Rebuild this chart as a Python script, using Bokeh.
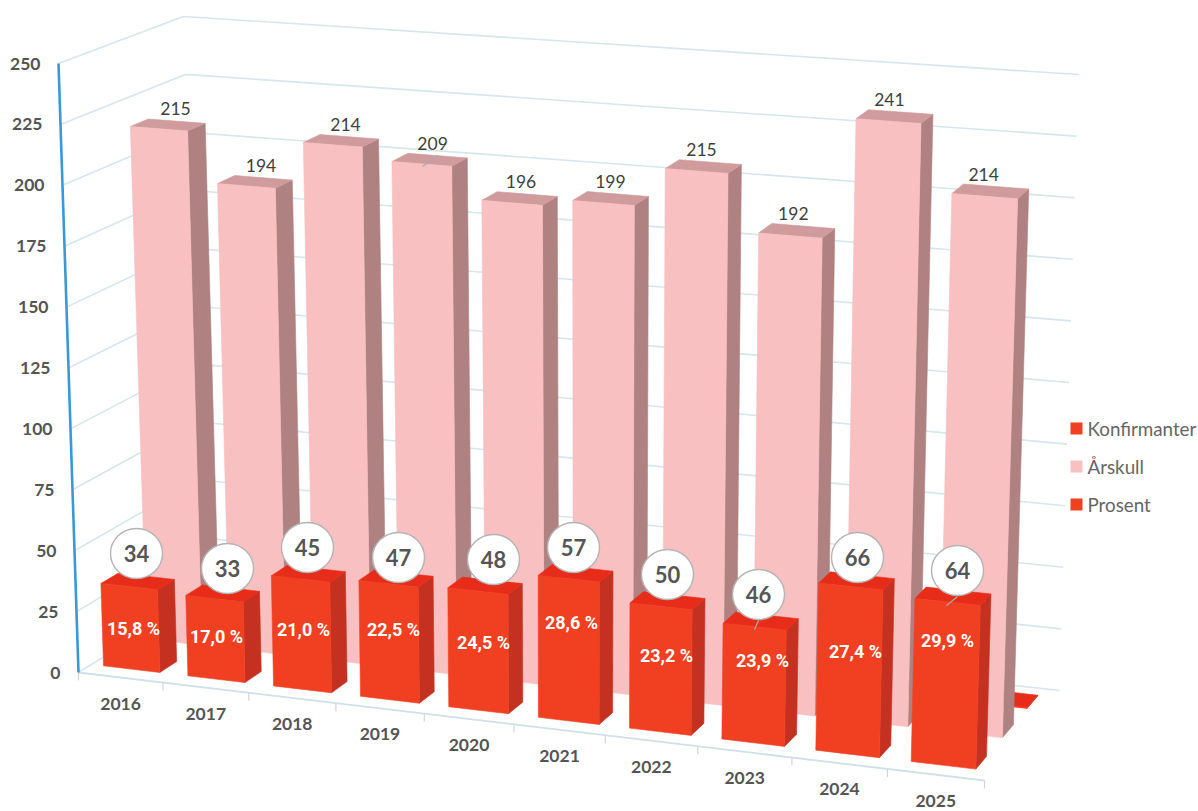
from bokeh.plotting import figure
from bokeh.models import Range1d
from bokeh.core.properties import value
from bokeh.embed import file_html
from bokeh.resources import INLINE

# ---- data ----
years = ["2016", "2017", "2018", "2019", "2020", "2021", "2022", "2023", "2024", "2025"]
konfirmanter = [34, 33, 45, 47, 48, 57, 50, 46, 66, 64]
arskull = [215, 194, 214, 209, 196, 199, 215, 192, 241, 214]
prosent = [15.8, 17.0, 21.0, 22.5, 24.5, 28.6, 23.2, 23.9, 27.4, 29.9]
value_ticks = [0, 25, 50, 75, 100, 125, 150, 175, 200, 225, 250]
legend_labels = ["Konfirmanter", "Årskull", "Prosent"]

# ---- layout: the projection of the 3-D chart box onto the page ----
VMAX = 250.0
FL0, FL1 = (78, 672), (58, 63)      # front left, value 0 / value max
FR0, FR1 = (984, 780), (1002, 138)  # front right
BL0, BL1 = (202, 595), (183, 16)    # back left
BR0, BR1 = (1059, 690), (1078, 74)  # back right
PERSP = 0.08
BAR_U = (0.16, 0.83)
ROW_RED = (0.105, 0.245)
ROW_PINK = (0.455, 0.60)
ROW_THIRD = (0.78, 0.92)

RED = ("#f13f22", "#c53120", "#e72d1a")
PINK = ("#f8c0c1", "#b08181", "#cf9b9c")
GRID = "#d6e6ee"
TXT = "#555555"


def lerp(a, b, t):
    return a + (b - a) * t


def project(u, val, z):
    t = u / (1 + PERSP * (1 - u))
    s = val / VMAX
    out = []
    for k in (0, 1):
        fl = lerp(FL0[k], FL1[k], s)
        fr = lerp(FR0[k], FR1[k], s)
        bl = lerp(BL0[k], BL1[k], s)
        br = lerp(BR0[k], BR1[k], s)
        out.append(lerp(lerp(fl, fr, t), lerp(bl, br, t), z))
    return tuple(out)


def box_faces(series, row, colors, scale=1.0):
    xs, ys, fills = [], [], []
    for i, raw in enumerate(series):
        v = raw * scale
        nudge = -0.016 * (1 - i / 9)
        u0, u1 = (i + BAR_U[0] + nudge) / 10, (i + BAR_U[1] + nudge) / 10
        z0, z1 = row
        side = [project(u1, 0, z0), project(u1, 0, z1), project(u1, v, z1), project(u1, v, z0)]
        top = [project(u0, v, z0), project(u1, v, z0), project(u1, v, z1), project(u0, v, z1)]
        front = [project(u0, 0, z0), project(u1, 0, z0), project(u1, v, z0), project(u0, v, z0)]
        for face, col in ((side, colors[1]), (top, colors[2]), (front, colors[0])):
            xs.append([q[0] for q in face])
            ys.append([q[1] for q in face])
            fills.append(col)
    return xs, ys, fills


p = figure(width=1198, height=811, x_range=Range1d(0, 1198), y_range=Range1d(811, 0),
           output_backend="svg", toolbar_location=None, min_border=0,
           background_fill_color="white", border_fill_color="white", outline_line_color=None)
p.axis.visible = False
p.grid.visible = False

# walls
wall_x, wall_y = [], []
for v in value_ticks:
    a, b, c = project(0, v, 0), project(0, v, 1), project(1, v, 1)
    wall_x.append([a[0], b[0], c[0]])
    wall_y.append([a[1], b[1], c[1]])
p.multi_line(wall_x, wall_y, line_color=GRID, line_width=1.6)

# floor edge + ticks
a, b = project(0, 0, 0), project(1, 0, 0)
p.line([a[0], b[0]], [a[1], b[1]], line_color="#cfe0ea", line_width=1.8)
tick_pts = [project(i / 10, 0, 0) for i in range(11)]
p.segment([q[0] for q in tick_pts], [q[1] for q in tick_pts],
          [q[0] for q in tick_pts], [q[1] + 8 for q in tick_pts], line_color="#d4d4d4", line_width=1.2)

# value axis
a, b = project(0, 0, 0), project(0, VMAX, 0)
p.line([a[0], b[0]], [a[1], b[1]], line_color="#3b98d8", line_width=2.6)

# bars: back to front
for series, row, colors, scale in ((prosent, ROW_THIRD, RED, 0.01),
                                   (arskull, ROW_PINK, PINK, 1.0),
                                   (konfirmanter, ROW_RED, RED, 1.0)):
    xs, ys, fills = box_faces(series, row, colors, scale)
    p.patches(xs, ys, fill_color=fills, line_color=fills, line_width=0.6)

# value axis labels
ax = [project(0, v, 0) for v in value_ticks]
p.text([q[0] - 18 for q in ax], [q[1] for q in ax], text=[str(v) for v in value_ticks],
       text_font=value("Lato"), text_font_style="bold", text_font_size="17.5px",
       text_color=TXT, text_align="right", text_baseline="middle")

# category labels
yr = [project((i + 0.5) / 10, 0, 0) for i in range(10)]
p.text([q[0] for q in yr], [q[1] + 26 for q in yr], text=years,
       text_font=value("Lato"), text_font_style="bold", text_font_size="17.5px",
       text_color=TXT, text_align="center", text_baseline="middle")

# Årskull labels
tops = [project((i + 0.5) / 10, v, ROW_PINK[1]) for i, v in enumerate(arskull)]
p.text([q[0] - 3 - 1.1 * i for i, q in enumerate(tops)], [q[1] - 12.5 for q in tops],
       text=[str(v) for v in arskull],
       text_font=value("Lato"), text_font_size="17.5px",
       text_color="#3f3f3f", text_align="center", text_baseline="middle")

# leader lines of the hand-placed labels
p.segment([438, 957, 758], [155, 596, 620], [422, 946, 754], [166, 605, 629],
          line_color="#a8a8a8", line_width=1.3)

# bubbles
BUBBLE_X = [136, 227, 307, 398, 493, 573, 667, 758, 857, 957]
BUBBLE_Y = [553, 568, 547, 557, 559, 547, 574, 594, 557, 570]
p.ellipse(BUBBLE_X, BUBBLE_Y, width=52, height=50, fill_color="white",
          line_color="#b4b4b4", line_width=1.4)
p.text(BUBBLE_X, BUBBLE_Y, text=[str(v) for v in konfirmanter],
       text_font=value("Lato"), text_font_style="bold", text_font_size="22px",
       text_color=TXT, text_align="center", text_baseline="middle")

# percent labels
PCT_X = [133, 216, 303, 393, 483, 571, 666, 762, 855, 947]
PCT_Y = [628, 636, 629, 629, 642, 622, 655, 660, 651, 640]
p.text(PCT_X, PCT_Y, text=[f"{v:.1f}".replace(".", ",") + " %" for v in prosent],
       text_font=value("Roboto"), text_font_style="bold", text_font_size="18px",
       text_color="white", text_align="center", text_baseline="middle")

# legend
LEG_X, LEG_Y = 1076, [428, 466, 504]
p.scatter([LEG_X] * 3, LEG_Y, marker="square", size=12,
          fill_color=[RED[0], PINK[0], RED[0]], line_color=None)
p.text([LEG_X + 11] * 3, LEG_Y, text=legend_labels, text_font=value("Lato"),
       text_font_size="18.8px", text_color="#666666", text_align="left", text_baseline="middle")

open("out.html", "w").write(file_html(p, INLINE))
